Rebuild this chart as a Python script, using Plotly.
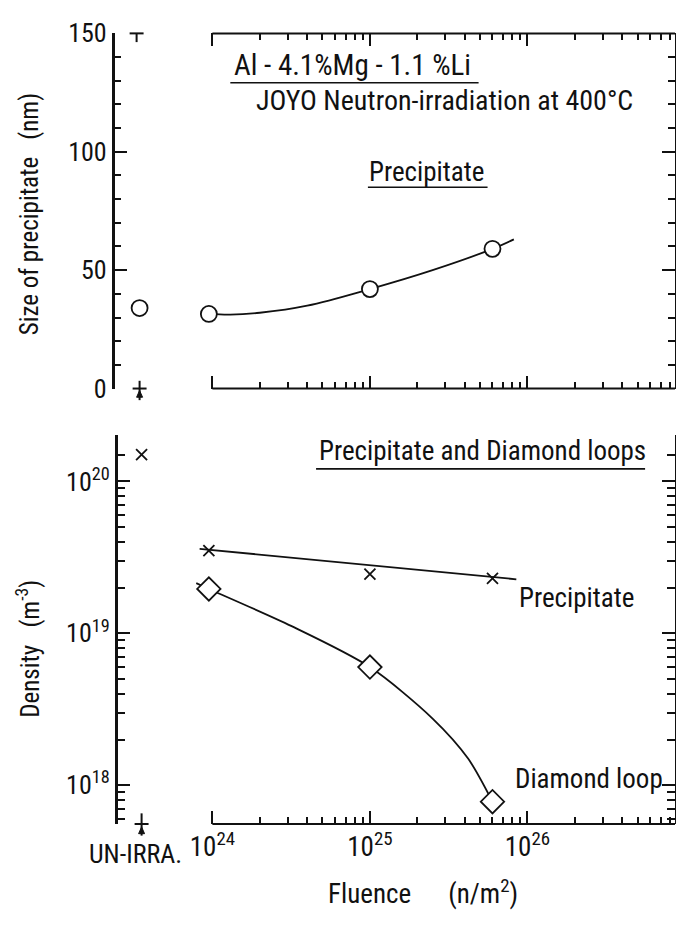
import plotly.graph_objects as go

# ---------------- data ----------------
fluence_pts = [9.5e23, 1.0e25, 6.0e25]          # n/m^2
size_pts = [31.5, 42, 59]                        # nm
size_unirr = 34

size_curve_fluence = [9.5e23, 1.3e24, 2e24, 4e24, 1e25, 2.5e25, 6e25, 8.2e25]
size_curve_vals = [31.5, 31.2, 32, 35, 42, 50, 59, 63]

precip_density = [3.5e19, 2.45e19, 2.3e19]      # m^-3
precip_unirr = 1.5e20
precip_line_fluence = [8.3e23, 8.5e25]
precip_line_vals = [3.6e19, 2.27e19]

diamond_density = [1.96e19, 6.0e18, 7.8e17]
diamond_curve_fluence = [7.9e23, 9.5e23, 3.16e24, 1e25, 2.5e25, 4.2e25, 6e25]
diamond_curve_vals = [2.14e19, 1.96e19, 1.12e19, 6.0e18, 2.75e18, 1.5e18, 7.8e17]

x_major = [1e24, 1e25, 1e26]
x_major_text = ["10<sup>24</sup>", "10<sup>25</sup>", "10<sup>26</sup>"]
x_minor = [float(m) * 10.0 ** e for e in (24, 25, 26) for m in range(2, 10)]
x_minor = [v for v in x_minor if v < 8.6e26]
y_major = [1e18, 1e19, 1e20]
y_major_text = ["10<sup>18</sup>", "10<sup>19</sup>", "10<sup>20</sup>"]
y_minor = [6e17, 7e17, 8e17, 9e17] + [float(m) * 10.0 ** e for e in (18, 19) for m in range(2, 10)] + [1.5e20, 2e20]

UNIRRA_X = 0.5

# ---------------- geometry helpers ----------------
W, H = 676, 929
def fx(px): return px / W
def fy(py): return 1 - py / H

X_LO = 24 - (211 - 190) / 158.0
X_HI = 24 + (675 - 211) / 158.0
Y_LO = 20 - (836 - 482) / 157.0
Y_HI = 20 + (482 - 434) / 157.0

FONT = "Liberation Sans Narrow, Roboto Condensed, DejaVu Sans Condensed, Roboto, sans-serif"
BLACK = "#111111"

fig = go.Figure()

def marker_circle():
    return dict(symbol="circle", size=16, color="white", line=dict(color=BLACK, width=1.8))

def marker_x():
    return dict(symbol="x-thin-open", size=11, color=BLACK, line=dict(color=BLACK, width=1.8))

# top-left : unirradiated size
fig.add_trace(go.Scatter(x=[UNIRRA_X], y=[size_unirr], mode="markers", marker=marker_circle(),
                         xaxis="x", yaxis="y", cliponaxis=False, showlegend=False))
# top main
fig.add_trace(go.Scatter(x=size_curve_fluence, y=size_curve_vals, mode="lines",
                         line=dict(color=BLACK, width=1.8, shape="spline"),
                         xaxis="x2", yaxis="y2", showlegend=False))
fig.add_trace(go.Scatter(x=fluence_pts, y=size_pts, mode="markers", marker=marker_circle(),
                         xaxis="x2", yaxis="y2", cliponaxis=False, showlegend=False))
# bottom-left : unirradiated precipitate density
fig.add_trace(go.Scatter(x=[UNIRRA_X], y=[precip_unirr], mode="markers", marker=marker_x(),
                         xaxis="x3", yaxis="y3", cliponaxis=False, showlegend=False))
# bottom main
fig.add_trace(go.Scatter(x=precip_line_fluence, y=precip_line_vals, mode="lines",
                         line=dict(color=BLACK, width=1.8),
                         xaxis="x4", yaxis="y4", showlegend=False))
fig.add_trace(go.Scatter(x=diamond_curve_fluence, y=diamond_curve_vals, mode="lines",
                         line=dict(color=BLACK, width=1.8, shape="spline", smoothing=0.8),
                         xaxis="x4", yaxis="y4", showlegend=False))
fig.add_trace(go.Scatter(x=fluence_pts, y=precip_density, mode="markers", marker=marker_x(),
                         xaxis="x4", yaxis="y4", cliponaxis=False, showlegend=False))
fig.add_trace(go.Scatter(x=fluence_pts, y=diamond_density, mode="markers",
                         marker=dict(symbol="diamond", size=18, color="white", line=dict(color=BLACK, width=1.8)),
                         xaxis="x4", yaxis="y4", cliponaxis=False, showlegend=False))

tickfont = dict(family=FONT, size=26, color=BLACK)
xtickfont = dict(family=FONT, size=27, color=BLACK)
common_tick = dict(ticks="inside", tickcolor=BLACK, tickwidth=2, ticklen=13,
                   linecolor=BLACK, showgrid=False, zeroline=False)
minor_log_x = dict(tickvals=x_minor, ticks="inside", ticklen=7, tickwidth=1.8, tickcolor=BLACK, showgrid=False)
minor_log_y = dict(tickvals=y_minor, ticks="inside", ticklen=8, tickwidth=1.8, tickcolor=BLACK, showgrid=False)
minor_lin = dict(dtick=10, ticks="inside", ticklen=7, tickwidth=1.8, tickcolor=BLACK, showgrid=False)

top_dom = [fy(386), fy(19)]
bot_dom = [fy(836), fy(434)]

fig.update_layout(
    width=W, height=H, margin=dict(l=0, r=0, t=0, b=0),
    paper_bgcolor="white", plot_bgcolor="white", showlegend=False,
    font=dict(family=FONT, color=BLACK),
    xaxis=dict(domain=[fx(113), fx(163)], range=[0, 1], visible=False, anchor="y"),
    yaxis=dict(domain=top_dom, range=[0, 150], anchor="x", showline=True, linewidth=2.5,
               tickvals=[0, 50, 100, 150], tickfont=tickfont, minor=minor_lin, **common_tick),
    xaxis2=dict(domain=[fx(190), fx(675)], type="log", range=[X_LO, X_HI], anchor="y2",
                showline=False, mirror="ticks", tickvals=x_major, showticklabels=False,
                minor=minor_log_x, **common_tick),
    yaxis2=dict(domain=top_dom, range=[0, 150], anchor="x2", side="right", showline=True,
                linewidth=2, tickvals=[0, 50, 100, 150], showticklabels=False,
                minor=minor_lin, **common_tick),
    xaxis3=dict(domain=[fx(116), fx(164)], range=[0, 1], visible=False, anchor="y3"),
    yaxis3=dict(domain=bot_dom, type="log", range=[Y_LO, Y_HI], anchor="x3", showline=True,
                linewidth=2.5, tickvals=y_major, ticktext=y_major_text, tickfont=tickfont,
                minor=minor_log_y, **common_tick),
    xaxis4=dict(domain=[fx(190), fx(675)], type="log", range=[X_LO, X_HI], anchor="y4",
                showline=False, tickvals=x_major, ticktext=x_major_text, tickfont=xtickfont,
                ticklabelstandoff=4, minor=minor_log_x, **common_tick),
    yaxis4=dict(domain=bot_dom, type="log", range=[Y_LO, Y_HI], anchor="x4", side="right",
                showline=True, linewidth=2, tickvals=y_major, showticklabels=False,
                minor=minor_log_y, **common_tick),
)

# ---------------- decorations ----------------
x0dom = (24 - X_LO) / (X_HI - X_LO)
shapes = []
def pline(x0, y0, x1, y1, w=2):
    shapes.append(dict(type="line", xref="paper", yref="paper", x0=fx(x0), y0=fy(y0),
                       x1=fx(x1), y1=fy(y1), line=dict(color=BLACK, width=w)))
# axis lines of the fluence axes starting at 10^24
for yr, yv in (("y2 domain", 1), ("y2 domain", 0), ("y4 domain", 0)):
    xr = "x2 domain" if yr.startswith("y2") else "x4 domain"
    shapes.append(dict(type="line", xref=xr, yref=yr, x0=x0dom, x1=1, y0=yv, y1=yv,
                       line=dict(color=BLACK, width=2)))
# un-irradiated position markers
pline(128, 19, 142, 19); pline(135, 19, 135, 28)
pline(138, 378, 138, 398); pline(131, 386, 145, 386)
shapes.append(dict(type="path", xref="paper", yref="paper",
                   path=f"M {fx(135)} {fy(395)} L {fx(138)} {fy(388)} L {fx(141)} {fy(395)} Z",
                   fillcolor=BLACK, line=dict(color=BLACK, width=1)))
pline(140, 825, 140, 848); pline(133, 836, 147, 836)
shapes.append(dict(type="path", xref="paper", yref="paper",
                   path=f"M {fx(137)} {fy(846)} L {fx(140)} {fy(839)} L {fx(143)} {fy(846)} Z",
                   fillcolor=BLACK, line=dict(color=BLACK, width=1)))
# underlines
pline(229, 70, 478, 70, 1.6)
pline(367, 178, 487, 178, 1.6)
pline(315, 469, 645, 469, 1.6)
fig.update_layout(shapes=shapes)

NB = "\u00a0"
def ann(text, x, y, size=22, angle=0):
    fig.add_annotation(text=text, xref="paper", yref="paper", x=fx(x), y=fy(y),
                       xanchor="center", yanchor="middle", showarrow=False, textangle=angle,
                       font=dict(family=FONT, size=size, color=BLACK))

ann(f"Al{NB}-{NB}4.1%Mg{NB}-{NB}1.1{NB}%Li", 352, 52, 29)
ann("JOYO Neutron-irradiation at 400°C", 444, 88, 28)
ann("Precipitate", 426, 162, 27)
ann("Precipitate and Diamond loops", 482, 451, 27)
ann("Precipitate", 576, 602, 27)
ann("Diamond loop", 589, 790, 27)
ann("UN-IRRA.", 134, 867, 26)
ann(f"Size of precipitate{NB}{NB}{NB}(nm)", 27, 206, 25, -90)
ann(f"Density{NB}{NB}{NB}(m<sup>-3</sup>)", 27, 655, 25, -90)
ann(f"Fluence{NB}{NB}{NB}{NB}{NB}{NB}(n/m<sup>2</sup>)", 422, 906, 27)

fig.write_html("out.html")
